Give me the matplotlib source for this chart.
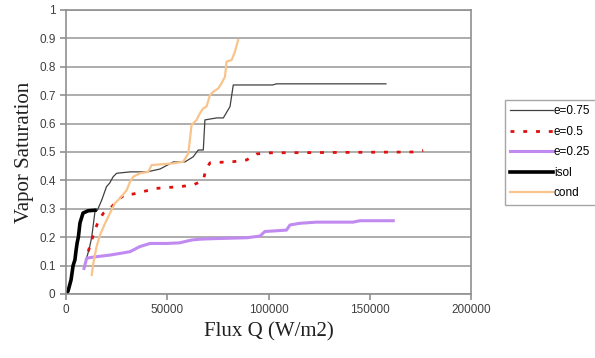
import matplotlib
matplotlib.use("Agg")
import matplotlib.pyplot as plt
import numpy as np

# e=0.75 (thin dark grey)
q_e75 = [9900, 11500, 12700, 14300, 15500, 17600, 20000, 21500, 23300, 25000, 31600, 40000, 46400,
         53000, 58700, 62800, 65300, 67800, 68600, 74400, 77700, 81000, 82600, 102000, 104000, 158000]
s_e75 = [0.12, 0.16, 0.20, 0.29, 0.295, 0.33, 0.378, 0.39, 0.413, 0.425, 0.43, 0.43, 0.44,
         0.465, 0.465, 0.483, 0.507, 0.507, 0.613, 0.62, 0.62, 0.66, 0.736, 0.736, 0.74, 0.74]

# e=0.5 (red dotted)
q_e50 = [11000, 12700, 14300, 15900, 18400, 21700, 24200, 26700, 29100, 33100, 44700, 56300, 62800,
         67800, 69000, 71100, 82600, 89200, 94100, 99100, 171000, 176400]
s_e50 = [0.15, 0.19, 0.225, 0.255, 0.284, 0.30, 0.32, 0.337, 0.35, 0.352, 0.372, 0.378, 0.384,
         0.40, 0.437, 0.462, 0.466, 0.472, 0.493, 0.497, 0.50, 0.505]

# e=0.25 (purple)
q_e25 = [8900, 10200, 13500, 21700, 26700, 31600, 36500, 41500, 49700, 56000, 62000, 66100, 73500,
         89200, 95800, 98200, 108900, 110600, 115500, 123700, 141800, 145100, 161600]
s_e25 = [0.09, 0.126, 0.13, 0.137, 0.143, 0.149, 0.167, 0.178, 0.178, 0.18, 0.19, 0.193, 0.195,
         0.198, 0.204, 0.22, 0.225, 0.243, 0.249, 0.253, 0.253, 0.258, 0.258]

# isol (thick black)
q_isol = [0, 1000, 2500, 3500, 4400, 5000, 5500, 6100, 6900, 8400, 10900, 14300]
s_isol = [0, 0.01, 0.05, 0.10, 0.12, 0.155, 0.18, 0.20, 0.25, 0.285, 0.293, 0.295]

# cond (light orange)
q_cond = [12700, 13500, 15100, 16800, 19300, 21700, 24200, 26700, 30000, 31600, 33200, 36500, 40600,
          42300, 53000, 57900, 60400, 62000, 64500, 66100, 67800, 69400, 71100, 72700, 75200, 76800,
          78500, 79300, 81800, 83400, 85000]
s_cond = [0.067, 0.108, 0.167, 0.208, 0.249, 0.284, 0.32, 0.337, 0.366, 0.395, 0.413, 0.425, 0.43,
          0.454, 0.46, 0.466, 0.495, 0.595, 0.613, 0.636, 0.654, 0.66, 0.70, 0.712, 0.724, 0.742,
          0.765, 0.818, 0.824, 0.853, 0.894]

fig = plt.figure(figsize=(5.95, 3.58), dpi=100)
ax = fig.add_axes([66/595, 64/358, 405/595, 284/358])

ax.plot(q_e75, s_e75, color="#404040", lw=0.9, label="e=0.75")
ax.plot(q_e50, s_e50, color="#e01010", lw=2.0, linestyle=(0, (1.4, 3.2)), label="e=0.5")
ax.plot(q_e25, s_e25, color="#c08af0", lw=2.2, label="e=0.25")
ax.plot(q_isol, s_isol, color="black", lw=2.6, label="isol")
ax.plot(q_cond, s_cond, color="#f8c48c", lw=1.6, label="cond")

ax.set_xlim(0, 200000)
ax.set_ylim(0, 1)
ax.set_xticks(np.arange(0, 200001, 50000))
ax.set_yticks(np.arange(0, 1.01, 0.1))
ax.set_yticklabels(["0", "0.1", "0.2", "0.3", "0.4", "0.5", "0.6", "0.7", "0.8", "0.9", "1"])
ax.yaxis.grid(True, color="#a0a0a0", lw=1.2)
ax.set_axisbelow(True)
for sp in ax.spines.values():
    sp.set_color("#909090")
    sp.set_linewidth(1.2)
ax.tick_params(colors="#909090", length=4, width=1.2, labelcolor="#404040",
               labelsize=8.5)
for t in ax.get_xticklabels() + ax.get_yticklabels():
    t.set_family("Liberation Sans")

ax.set_xlabel("Flux Q (W/m2)", family="Liberation Serif", fontsize=15, color="#202020")
ax.set_ylabel("Vapor Saturation", family="Liberation Serif", fontsize=15, color="#202020")

leg = fig.legend(loc="upper left", bbox_to_anchor=(505/595, 1 - 100/358), frameon=True,
                 fancybox=False, edgecolor="#909090", handlelength=3.6, handletextpad=0.1,
                 borderpad=0.45, labelspacing=0.72, borderaxespad=0,
                 prop={"family": "Liberation Sans", "size": 8.5})
leg.get_frame().set_linewidth(1.0)

fig.savefig("out.png", dpi=100)
